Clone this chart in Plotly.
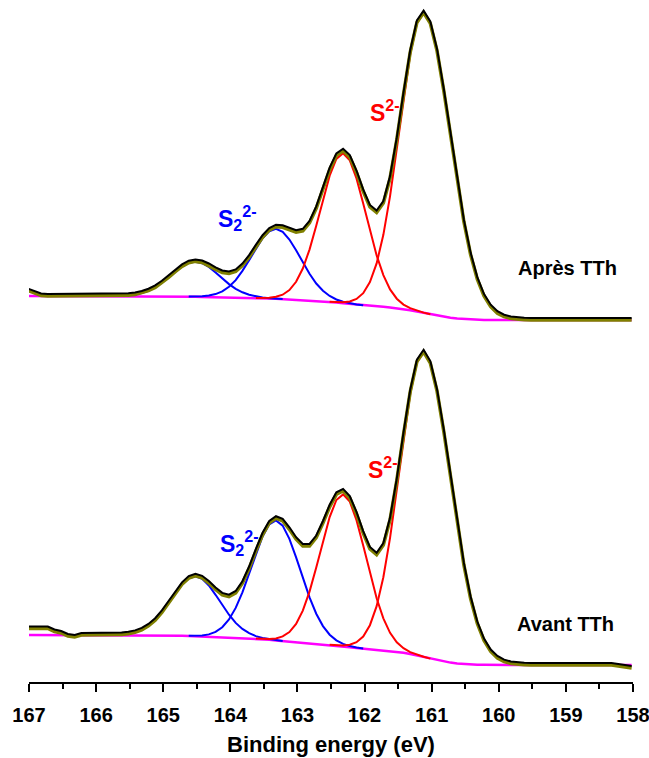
import plotly.graph_objects as go

# Binding-energy grid (eV), 0.1 eV step
energy = [round(167.02 - 0.1 * i, 2) for i in range(91)]

# ---------------- "Après TTh" (upper spectrum), intensity a.u. ----------------
apres_data = [29.5, 27.0, 24.5, 24.0, 24.0, 24.0, 24.0, 24.0, 24.0, 24.0,
              24.0, 24.0, 24.1, 24.1, 24.3, 24.7, 25.5, 27.0, 29.3, 32.6,
              37.2, 42.7, 48.4, 53.6, 57.3, 58.6, 57.5, 54.5, 50.6, 47.5,
              46.5, 48.6, 54.4, 62.9, 73.1, 82.8, 89.9, 93.3, 92.7, 89.9,
              87.7, 89.2, 97.1, 111.7, 130.9, 150.3, 164.6, 169.2, 162.9, 147.5,
              128.6, 113.1, 107.5, 116.9, 141.9, 180.3, 225.4, 267.7, 297.6, 307.4,
              296.6, 269.1, 229.5, 184.2, 138.8, 98.3, 65.4, 40.9, 24.0, 13.3,
              6.8, 3.3, 1.5, 0.7, 0.3, 0.1, 0, 0, 0, 0,
              0, 0, 0, 0, 0, 0, 0, 0, 0, 0, 0]
apres_background = [24.0] * 19 + [
    23.9, 23.9, 23.8, 23.7, 23.6, 23.5, 23.3, 23.1, 23.0, 22.8,
    22.7, 22.6, 22.5, 22.4, 22.2, 22.0, 21.8, 21.5, 21.2, 20.8,
    20.5, 20.2, 19.8, 19.5, 19.1, 18.6, 18.1, 17.4, 16.7, 16.0,
    15.3, 14.7, 14.2, 13.7, 13.2, 12.6, 11.9, 10.9, 9.8, 8.5,
    7.1, 5.7, 4.4, 3.1, 2.2, 1.4, 0.9, 0.5, 0.3, 0.1, 0.1] + [0.0] * 21
# fitted components (height above background) and first grid index
apres_s22_a_start, apres_s22_a = 12, [0.1, 0.1, 0.3, 0.7, 1.5, 3.0, 5.3, 8.7, 13.3, 18.9, 24.7, 30.0, 33.7, 35.0,
                                      33.7, 30.0, 24.7, 18.9, 13.3, 8.7, 5.3, 3.0, 1.5, 0.7, 0.3, 0.1, 0.1]
apres_s22_b_start, apres_s22_b = 24, [0.1, 0.3, 0.7, 1.5, 3.1, 5.9, 10.6, 17.4, 26.7, 37.7, 49.5, 60.0, 67.3, 70.0,
                                      67.3, 60.0, 49.5, 37.7, 26.7, 17.4, 10.6, 5.9, 3.1, 1.5, 0.7, 0.3, 0.1]
apres_s2_a_start, apres_s2_a = 34, [0.1, 0.3, 0.8, 2.0, 4.5, 9.4, 18.0, 31.7, 50.9, 75.2, 101.7, 126.2, 143.7, 150.0,
                                    143.7, 126.2, 101.7, 75.2, 50.9, 31.7, 18.0, 9.4, 4.5, 2.0, 0.8, 0.3, 0.1]
apres_s2_b_start, apres_s2_b = 45, [0.1, 0.4, 1.0, 2.5, 5.7, 12.1, 23.7, 42.9, 72.0, 111.3, 159.0, 210.0, 255.9, 288.3,
                                    300.0, 290.8, 264.7, 226.4, 182.0, 137.4, 97.4, 64.9, 40.6, 23.9, 13.2, 6.8,
                                    3.3, 1.5, 0.7, 0.3, 0.1]

# ---------------- "Avant TTh" (lower spectrum), intensity a.u. ----------------
avant_data = [36.5, 36.5, 36.5, 36.5, 33.5, 32.0, 29.0, 28.0, 30.0, 30.0,
              30.0, 30.0, 30.1, 30.2, 30.6, 31.3, 32.6, 35.1, 39.1, 44.8,
              52.7, 62.0, 71.9, 80.7, 86.9, 89.2, 87.2, 82.0, 75.5, 70.1,
              68.4, 72.0, 81.8, 96.5, 113.8, 130.2, 142.1, 146.8, 144.1, 135.7,
              125.8, 119.1, 119.1, 127.5, 142.0, 158.2, 170.7, 174.1, 167.0, 151.1,
              131.8, 116.0, 110.3, 119.9, 145.4, 184.4, 230.3, 273.1, 303.4, 313.2,
              301.9, 273.8, 233.8, 187.5, 141.3, 100.1, 66.5, 41.5, 24.5, 13.5,
              7.0, 3.4, 1.6, 0.7, 0.3, 0, 0, 0, 0, 0,
              0, 0, 0, 0, 0, 0, 0, 0, -1.0, -2.0, -3.0]
avant_background = [30.0] * 19 + [
    29.9, 29.8, 29.7, 29.5, 29.3, 29.0, 28.7, 28.4, 28.1, 27.8,
    27.6, 27.4, 27.2, 27.0, 26.7, 26.3, 25.8, 25.3, 24.6, 24.0,
    23.4, 22.8, 22.3, 21.9, 21.4, 20.8, 20.1, 19.4, 18.6, 17.8,
    17.0, 16.3, 15.7, 15.2, 14.6, 14.0, 13.2, 12.2, 10.9, 9.5,
    7.9, 6.3, 4.8, 3.5, 2.4, 1.6, 1.0, 0.6, 0.3, 0.2, 0.1] + [0.0] * 21
avant_s22_a_start, avant_s22_a = 12, [0.1, 0.2, 0.6, 1.3, 2.6, 5.1, 9.1, 14.9, 22.9, 32.3, 42.4, 51.4, 57.7, 60.0,
                                      57.7, 51.4, 42.4, 32.3, 22.9, 14.9, 9.1, 5.1, 2.6, 1.3, 0.6, 0.2, 0.1]
avant_s22_b_start, avant_s22_b = 24, [0.2, 0.5, 1.1, 2.5, 5.3, 10.2, 18.1, 29.9, 45.7, 64.7, 84.8, 102.8, 115.4, 120.0,
                                      115.4, 102.8, 84.8, 64.7, 45.7, 29.9, 18.1, 10.2, 5.3, 2.5, 1.1, 0.5, 0.2]
avant_s2_a_start, avant_s2_a = 34, [0.1, 0.3, 0.8, 2.0, 4.6, 9.5, 18.2, 32.1, 51.5, 76.2, 103.1, 127.8, 145.6, 152.0,
                                    145.6, 127.8, 103.1, 76.2, 51.5, 32.1, 18.2, 9.5, 4.6, 2.0, 0.8, 0.3, 0.1]
avant_s2_b_start, avant_s2_b = 45, [0.1, 0.4, 1.0, 2.5, 5.8, 12.2, 24.1, 43.6, 73.2, 113.2, 161.7, 213.5, 260.2, 293.1,
                                    305.0, 295.5, 269.0, 230.3, 185.1, 139.7, 99.1, 65.9, 41.2, 24.3, 13.4, 7.0,
                                    3.4, 1.6, 0.7, 0.3, 0.1]

tick_values = [167, 166, 165, 164, 163, 162, 161, 160, 159, 158]

BLUE, RED, MAGENTA, OLIVE, BLACK = "#0000ff", "#ff0000", "#ff00ff", "#808000", "#000000"
FONT = "Liberation Sans, Arial, sans-serif"

fig = go.Figure()


def add_spectrum(data, background, comps, yfit, ydata):
    fig.add_trace(go.Scatter(x=energy, y=background, mode="lines", yaxis=yfit,
                             line=dict(color=MAGENTA, width=2.5), hoverinfo="skip"))
    for start, vals, color in comps:
        xs = energy[start:start + len(vals)]
        ys = [v + b for v, b in zip(vals, background[start:start + len(vals)])]
        fig.add_trace(go.Scatter(x=xs, y=ys, mode="lines", yaxis=yfit,
                                 line=dict(color=color, width=2), hoverinfo="skip"))
    fig.add_trace(go.Scatter(x=energy, y=data, mode="lines", yaxis=yfit,
                             line=dict(color=OLIVE, width=3.5), hoverinfo="skip"))
    fig.add_trace(go.Scatter(x=energy, y=data, mode="lines", yaxis=ydata,
                             line=dict(color=BLACK, width=2), hoverinfo="skip"))


add_spectrum(avant_data, avant_background,
             [(avant_s22_a_start, avant_s22_a, BLUE), (avant_s22_b_start, avant_s22_b, BLUE),
              (avant_s2_a_start, avant_s2_a, RED), (avant_s2_b_start, avant_s2_b, RED)],
             "y", "y2")
add_spectrum(apres_data, apres_background,
             [(apres_s22_a_start, apres_s22_a, BLUE), (apres_s22_b_start, apres_s22_b, BLUE),
              (apres_s2_a_start, apres_s2_a, RED), (apres_s2_b_start, apres_s2_b, RED)],
             "y3", "y4")

hidden = dict(visible=False, showgrid=False, zeroline=False, fixedrange=True)
fig.update_layout(
    width=649, height=758,
    margin=dict(l=29, r=16, t=0, b=76),
    paper_bgcolor="white", plot_bgcolor="white",
    showlegend=False,
    font=dict(family=FONT, color="black"),
    xaxis=dict(range=[167, 158], tickvals=tick_values, ticktext=[str(t) for t in tick_values],
               ticks="outside", ticklen=8, tickwidth=2, tickcolor="black", ticklabelstandoff=6,
               ticklabeloverflow="allow",
               minor=dict(dtick=0.5, ticks="outside", ticklen=5, tickwidth=2, tickcolor="black"),
               showline=True, linewidth=2, linecolor="black", showgrid=False, zeroline=False,
               fixedrange=True,
               tickfont=dict(family=FONT, size=20, color="black", weight="bold"),
               title=dict(text="Binding energy (eV)", standoff=12,
                          font=dict(family=FONT, size=22, color="black", weight="bold"))),
    yaxis=dict(range=[-17, 665], **hidden),
    yaxis2=dict(range=[-19, 663], overlaying="y", **hidden),
    yaxis3=dict(range=[-362, 320], overlaying="y", **hidden),
    yaxis4=dict(range=[-364, 318], overlaying="y", **hidden),
)


def ypaper(py):
    return (682 - py) / 682


annots = [
    dict(x=164.21, y=ypaper(218), text="<b>S<sub>2</sub><sup>2-</sup></b>", color=BLUE, size=23, xanchor="left"),
    dict(x=164.19, y=ypaper(543), text="<b>S<sub>2</sub><sup>2-</sup></b>", color=BLUE, size=23, xanchor="left"),
    dict(x=161.95, y=ypaper(111), text="<b>S<sup>2-</sup></b>", color=RED, size=23, xanchor="left"),
    dict(x=161.98, y=ypaper(468), text="<b>S<sup>2-</sup></b>", color=RED, size=23, xanchor="left"),
    dict(x=158.98, y=ypaper(268), text="<b>Après TTh</b>", color=BLACK, size=20, xanchor="center"),
    dict(x=159.01, y=ypaper(624), text="<b>Avant TTh</b>", color=BLACK, size=20, xanchor="center"),
]
for a in annots:
    fig.add_annotation(x=a["x"], y=a["y"], xref="x", yref="paper", text=a["text"], showarrow=False,
                       xanchor=a["xanchor"], yanchor="middle",
                       font=dict(family=FONT, size=a["size"], color=a["color"]))

fig.write_html("out.html", config={"displayModeBar": False},
               post_script="document.body.style.margin='0';")
